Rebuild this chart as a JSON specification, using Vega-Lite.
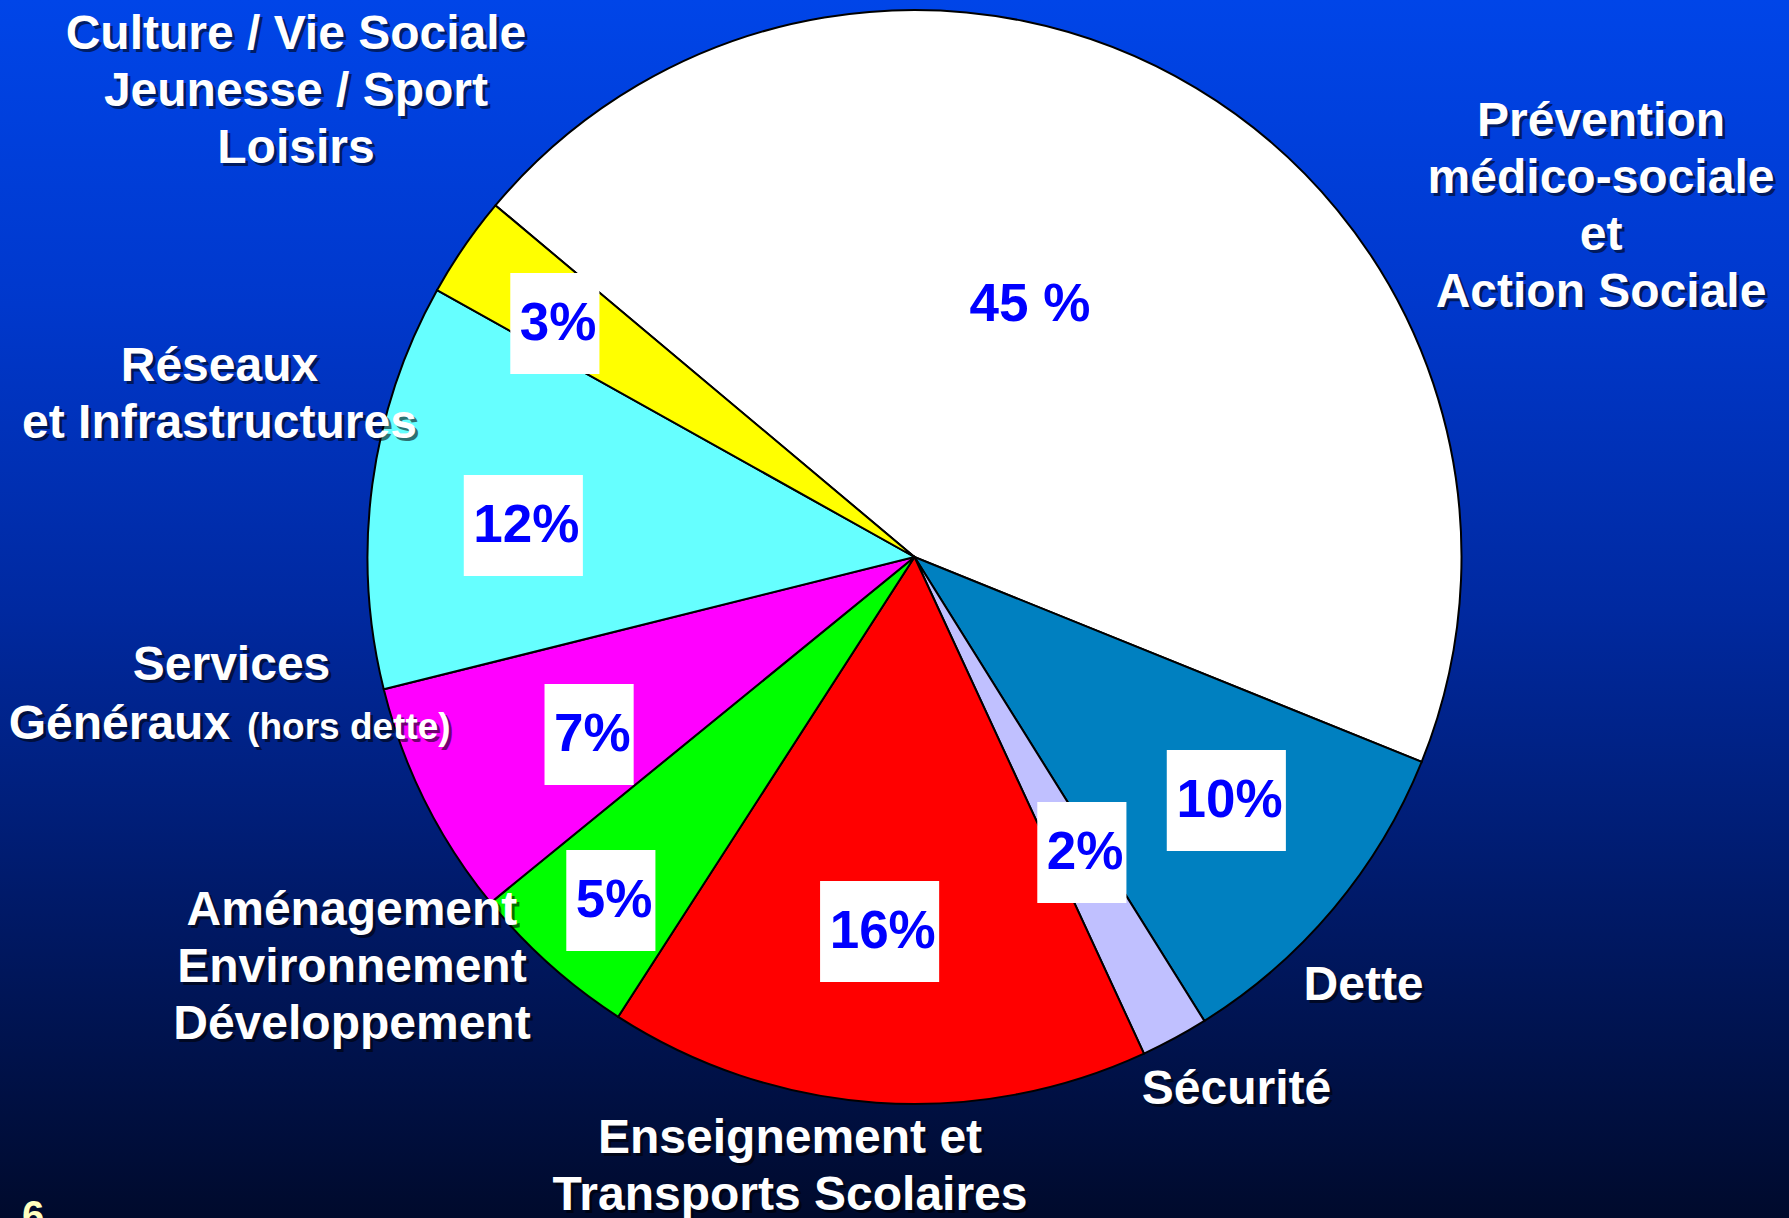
{
  "$schema": "https://vega.github.io/schema/vega-lite/v6.json",
  "width": 1789,
  "height": 1218,
  "padding": 0,
  "autosize": {"type": "none"},
  "background": "#00123f",
  "config": {"view": {"stroke": null}},
  "title": {
    "text": "6", "orient": "bottom", "anchor": "start", "frame": "group",
    "offset": -26, "dx": 22, "fontSize": 40, "font": "Liberation Sans",
    "fontWeight": "bold", "color": "#ffffc0", "baseline": "top"
  },
  "params": [
    {"name": "ix", "value": [0, -85.4, 13.2, -18, -7.6, -43.6, 23.5, -4.6, -38.5]},
    {"name": "iy", "value": [0, 82.3, -6.2, -47.5, -14.5, 53.7, 3.2, 20.1, -11.1]},
    {"name": "ox", "value": [0, 367.2, -25.9, 27.1, -81.2, -149.3, -128.6, -80.5, -108.2]},
    {"name": "oy", "value": [0, 110.5, 44.5, 1.6, -22.5, -94.2, -154.6, -94, -156]}
  ],
  "data": {
    "values": [
      {"ordre": 1, "cat": "Prévention médico-sociale et Action Sociale", "value": 45, "pct": "45 %", "label": "Prévention\nmédico-sociale\net\nAction Sociale"},
      {"ordre": 2, "cat": "Dette", "value": 10, "pct": "10%", "label": "Dette"},
      {"ordre": 3, "cat": "Sécurité", "value": 2, "pct": "2%", "label": "Sécurité"},
      {"ordre": 4, "cat": "Enseignement et Transports Scolaires", "value": 16, "pct": "16%", "label": "Enseignement et\nTransports Scolaires"},
      {"ordre": 5, "cat": "Aménagement Environnement Développement", "value": 5, "pct": "5%", "label": "Aménagement\nEnvironnement\nDéveloppement"},
      {"ordre": 6, "cat": "Services Généraux (hors dette)", "value": 7, "pct": "7%", "label": "Services", "label2": "Généraux", "note": "(hors dette)"},
      {"ordre": 7, "cat": "Réseaux et Infrastructures", "value": 12, "pct": "12%", "label": "Réseaux\net Infrastructures"},
      {"ordre": 8, "cat": "Culture / Vie Sociale Jeunesse / Sport Loisirs", "value": 3, "pct": "3%", "label": "Culture / Vie Sociale\nJeunesse / Sport\nLoisirs"}
    ]
  },
  "layer": [
    {
      "data": {"values": [{"fond": "diapositive"}]},
      "mark": {
        "type": "rect",
        "color": {
          "gradient": "linear", "x1": 0, "y1": 0, "x2": 0, "y2": 1,
          "stops": [
            {"offset": 0, "color": "#0045e8"},
            {"offset": 0.25, "color": "#0038cc"},
            {"offset": 0.5, "color": "#0029a0"},
            {"offset": 0.75, "color": "#001966"},
            {"offset": 1, "color": "#000a2c"}
          ]
        }
      },
      "encoding": {}
    },
    {
      "encoding": {
        "theta": {"field": "value", "type": "quantitative", "stack": true, "scale": {"range": [5.41052, 11.69371]}},
        "order": {"field": "ordre", "type": "quantitative"}
      },
      "layer": [
        {
          "mark": {"type": "arc", "radius": 547, "x": {"expr": "width/2 + 20"}, "y": {"expr": "height/2 - 52"}, "stroke": "#000000", "strokeWidth": 2},
          "encoding": {
            "color": {
              "field": "cat", "type": "nominal", "legend": null,
              "scale": {
                "domain": ["Prévention médico-sociale et Action Sociale", "Dette", "Sécurité", "Enseignement et Transports Scolaires", "Aménagement Environnement Développement", "Services Généraux (hors dette)", "Réseaux et Infrastructures", "Culture / Vie Sociale Jeunesse / Sport Loisirs"],
                "range": ["#ffffff", "#0080c0", "#c0c0ff", "#ff0000", "#00ff00", "#ff00ff", "#66ffff", "#ffff00"]
              }
            }
          }
        },
        {
          "mark": {"type": "text", "text": "█", "font": "DejaVu Sans", "fontSize": 85, "color": "#ffffff", "align": "center", "baseline": "middle", "radius": 390, "x": {"expr": "width/2 + 20"}, "y": {"expr": "height/2 - 52"}, "dx": {"expr": "ix[datum.ordre] - (length(datum.pct) > 2 ? 26 : 11)"}, "dy": {"expr": "iy[datum.ordre] + 3"}},
          "encoding": {}
        },
        {
          "mark": {"type": "text", "text": "█", "font": "DejaVu Sans", "fontSize": 85, "color": "#ffffff", "align": "center", "baseline": "middle", "radius": 390, "x": {"expr": "width/2 + 20"}, "y": {"expr": "height/2 - 52"}, "dx": {"expr": "ix[datum.ordre] + (length(datum.pct) > 2 ? 26 : 11)"}, "dy": {"expr": "iy[datum.ordre] + 3"}},
          "encoding": {}
        },
        {
          "mark": {"type": "text", "font": "Liberation Sans", "fontWeight": "bold", "fontSize": 53, "color": "#0000ff", "align": "center", "baseline": "middle", "radius": 390, "x": {"expr": "width/2 + 20"}, "y": {"expr": "height/2 - 52"}, "dx": {"expr": "ix[datum.ordre] + (datum.ordre > 1 ? 3 : 0)"}, "dy": {"expr": "iy[datum.ordre]"}},
          "encoding": {"text": {"field": "pct", "type": "nominal"}}
        },
        {
          "mark": {"type": "text", "font": "Liberation Sans", "fontWeight": "bold", "fontSize": 48, "lineHeight": 57, "lineBreak": "\n", "color": "#000000", "opacity": 0.55, "align": "center", "baseline": "alphabetic", "radius": 620, "x": {"expr": "width/2 + 20"}, "y": {"expr": "height/2 - 52"}, "dx": {"expr": "ox[datum.ordre] + 3"}, "dy": {"expr": "oy[datum.ordre] + 3"}},
          "encoding": {"text": {"field": "label", "type": "nominal"}}
        },
        {
          "mark": {"type": "text", "font": "Liberation Sans", "fontWeight": "bold", "fontSize": 48, "lineHeight": 57, "lineBreak": "\n", "color": "#ffffff", "align": "center", "baseline": "alphabetic", "radius": 620, "x": {"expr": "width/2 + 20"}, "y": {"expr": "height/2 - 52"}, "dx": {"expr": "ox[datum.ordre]"}, "dy": {"expr": "oy[datum.ordre]"}},
          "encoding": {"text": {"field": "label", "type": "nominal"}}
        },
        {
          "mark": {"type": "text", "font": "Liberation Sans", "fontWeight": "bold", "fontSize": 48, "color": "#000000", "opacity": 0.55, "align": "right", "baseline": "alphabetic", "radius": 620, "x": {"expr": "width/2 + 20"}, "y": {"expr": "height/2 - 52"}, "dx": -127, "dy": -93},
          "encoding": {"text": {"condition": {"test": "isValid(datum.label2)", "field": "label2", "type": "nominal"}, "value": ""}}
        },
        {
          "mark": {"type": "text", "font": "Liberation Sans", "fontWeight": "bold", "fontSize": 48, "color": "#ffffff", "align": "right", "baseline": "alphabetic", "radius": 620, "x": {"expr": "width/2 + 20"}, "y": {"expr": "height/2 - 52"}, "dx": -130, "dy": -96},
          "encoding": {"text": {"condition": {"test": "isValid(datum.label2)", "field": "label2", "type": "nominal"}, "value": ""}}
        },
        {
          "mark": {"type": "text", "font": "Liberation Sans", "fontWeight": "bold", "fontSize": 37, "color": "#000000", "opacity": 0.55, "align": "left", "baseline": "alphabetic", "radius": 620, "x": {"expr": "width/2 + 20"}, "y": {"expr": "height/2 - 52"}, "dx": -110, "dy": -93},
          "encoding": {"text": {"condition": {"test": "isValid(datum.note)", "field": "note", "type": "nominal"}, "value": ""}}
        },
        {
          "mark": {"type": "text", "font": "Liberation Sans", "fontWeight": "bold", "fontSize": 37, "color": "#ffffff", "align": "left", "baseline": "alphabetic", "radius": 620, "x": {"expr": "width/2 + 20"}, "y": {"expr": "height/2 - 52"}, "dx": -113, "dy": -96},
          "encoding": {"text": {"condition": {"test": "isValid(datum.note)", "field": "note", "type": "nominal"}, "value": ""}}
        }
      ]
    }
  ]
}
